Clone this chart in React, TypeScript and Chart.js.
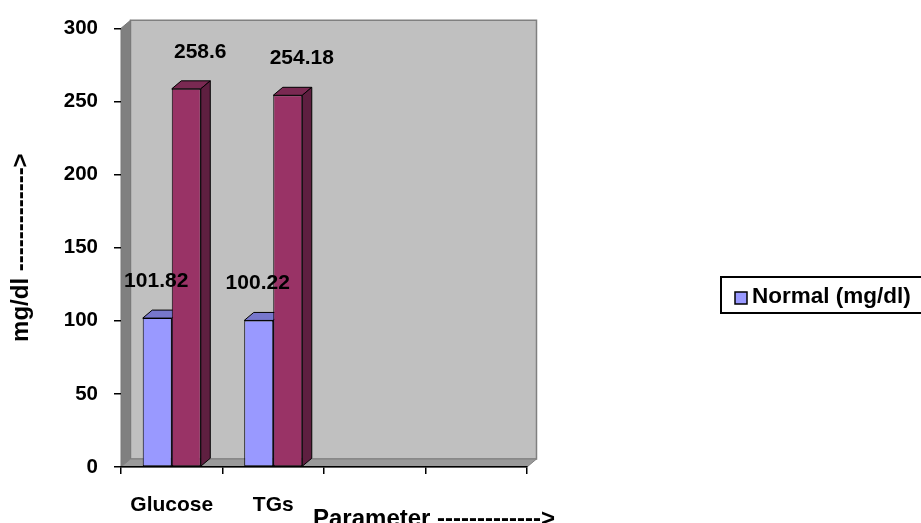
import React, { useEffect, useRef } from "react";
import { Chart, registerables } from "chart.js";

Chart.register(...registerables);

// ---- data ----
const categories = ["Glucose", "TGs", "", ""];
const normalValues = [101.82, 100.22, null, null];
const diabeticValues = [258.6, 254.18, null, null];
const seriesNames = ["Normal (mg/dl)", "Diabetic (mg/dl)"];
const yTickValues = [0, 50, 100, 150, 200, 250, 300];
const yAxisTitle = "mg/dl ------------->";
const xAxisTitle = "Parameter ------------->";

// ---- styling ----
const FONT = '"Liberation Sans", Arial, sans-serif';
const DX = 9.5; // 3D depth offset, horizontal
const DY = 8; // 3D depth offset, vertical
const frontColors = ["#9999FF", "#993366"];
const topColors = ["#7777CC", "#7A2952"];
const sideColors = ["#6666AA", "#5E1F40"];
const labelShift = [-1, 14];

type Pt = [number, number];

function poly(ctx: CanvasRenderingContext2D, pts: Pt[], fill: string, stroke: string, lw = 1) {
  ctx.beginPath();
  ctx.moveTo(pts[0][0], pts[0][1]);
  for (let i = 1; i < pts.length; i++) ctx.lineTo(pts[i][0], pts[i][1]);
  ctx.closePath();
  ctx.fillStyle = fill;
  ctx.fill();
  ctx.lineWidth = lw;
  ctx.strokeStyle = stroke;
  ctx.stroke();
}

const depthPlugin = {
  id: "depth3d",
  beforeDraw(chart: any) {
    const { ctx, chartArea: a } = chart;
    ctx.save();
    // back wall
    poly(
      ctx,
      [
        [a.left + DX, a.top - DY],
        [a.right + DX, a.top - DY],
        [a.right + DX, a.bottom - DY],
        [a.left + DX, a.bottom - DY],
      ],
      "#C0C0C0",
      "#808080",
      1.5
    );
    // side wall
    poly(
      ctx,
      [
        [a.left, a.top],
        [a.left + DX, a.top - DY],
        [a.left + DX, a.bottom - DY],
        [a.left, a.bottom],
      ],
      "#808080",
      "#7A7A7A"
    );
    // floor
    poly(
      ctx,
      [
        [a.left, a.bottom],
        [a.left + DX, a.bottom - DY],
        [a.right + DX, a.bottom - DY],
        [a.right, a.bottom],
      ],
      "#9A9A9A",
      "#808080"
    );
    ctx.restore();
  },
  // top and side faces of every bar, drawn left series first so the
  // front faces (drawn afterwards by Chart.js) hide what lies behind them
  beforeDatasetsDraw(chart: any) {
    const { ctx } = chart;
    ctx.save();
    chart.data.datasets.forEach((ds: any, i: number) => {
      const meta = chart.getDatasetMeta(i);
      meta.data.forEach((el: any, j: number) => {
        const v = ds.data[j];
        if (v === null || v === undefined) return;
        const { x, y, base, width } = el.getProps(["x", "y", "base", "width"], true);
        const x0 = x - width / 2;
        const x1 = x + width / 2;
        poly(
          ctx,
          [
            [x0, y],
            [x1, y],
            [x1 + DX, y - DY],
            [x0 + DX, y - DY],
          ],
          topColors[i],
          "#000"
        );
        poly(
          ctx,
          [
            [x1, y],
            [x1 + DX, y - DY],
            [x1 + DX, base - DY],
            [x1, base],
          ],
          sideColors[i],
          "#000"
        );
      });
    });
    ctx.restore();
  },
  afterDatasetsDraw(chart: any) {
    const { ctx } = chart;
    ctx.save();
    ctx.font = `bold 21px ${FONT}`;
    ctx.fillStyle = "#000";
    ctx.textAlign = "center";
    ctx.textBaseline = "middle";
    chart.data.datasets.forEach((ds: any, i: number) => {
      const meta = chart.getDatasetMeta(i);
      meta.data.forEach((el: any, j: number) => {
        const v = ds.data[j];
        if (v === null || v === undefined) return;
        const { x, y } = el.getProps(["x", "y"], true);
        ctx.fillText(String(v), x + labelShift[i], y - 37);
      });
    });
    ctx.restore();
  },
  afterDraw(chart: any) {
    const { ctx, chartArea: a } = chart;
    ctx.save();
    // x axis title
    ctx.font = `bold 24px ${FONT}`;
    ctx.fillStyle = "#000";
    ctx.textAlign = "left";
    ctx.textBaseline = "alphabetic";
    ctx.fillText(xAxisTitle, a.left + 192, a.bottom + 59);

    // legend (first series only)
    const lx = 721;
    const ly = 277;
    ctx.fillStyle = "#fff";
    ctx.fillRect(lx, ly, 220, 36);
    ctx.lineWidth = 2;
    ctx.strokeStyle = "#000";
    ctx.strokeRect(lx, ly, 220, 36);
    ctx.fillStyle = frontColors[0];
    ctx.fillRect(lx + 14, ly + 15, 12, 12);
    ctx.lineWidth = 1.5;
    ctx.strokeRect(lx + 14, ly + 15, 12, 12);
    ctx.fillStyle = "#000";
    ctx.font = `bold 22.5px ${FONT}`;
    ctx.textBaseline = "middle";
    ctx.fillText(seriesNames[0], lx + 31, ly + 20);
    ctx.restore();
  },
};

export default function App() {
  const ref = useRef<HTMLCanvasElement | null>(null);

  useEffect(() => {
    if (!ref.current) return;
    const chart = new Chart(ref.current, {
      type: "bar",
      data: {
        labels: categories,
        datasets: [
          {
            label: seriesNames[0],
            data: normalValues,
            backgroundColor: frontColors[0],
            borderColor: "#000",
            borderWidth: 1,
            borderSkipped: false,
          },
          {
            label: seriesNames[1],
            data: diabeticValues,
            backgroundColor: frontColors[1],
            borderColor: "#000",
            borderWidth: 1,
            borderSkipped: false,
          },
        ],
      },
      options: {
        animation: false,
        responsive: true,
        maintainAspectRatio: false,
        layout: { padding: { top: 21, right: 394, bottom: 0, left: 0 } },
        datasets: { bar: { categoryPercentage: 0.572, barPercentage: 1 } },
        plugins: {
          legend: { display: false },
          tooltip: { enabled: false },
        },
        scales: {
          x: {
            offset: true,
            grid: {
              display: true,
              offset: true,
              drawOnChartArea: false,
              drawTicks: true,
              tickLength: 7,
              color: "#000",
              lineWidth: 1.5,
            },
            border: { display: true, color: "#000", width: 1.5 },
            ticks: {
              color: "#000",
              padding: 19,
              font: { family: FONT, size: 21, weight: "bold" },
              maxRotation: 0,
              autoSkip: false,
            },
            afterFit(scale: any) {
              scale.height = 56;
            },
          },
          y: {
            min: 0,
            max: 300,
            afterBuildTicks(scale: any) {
              scale.ticks = yTickValues.map((v) => ({ value: v }));
            },
            grid: {
              display: true,
              drawOnChartArea: false,
              drawTicks: true,
              tickLength: 7,
              color: "#000",
              lineWidth: 1.5,
            },
            border: { display: false },
            ticks: {
              color: "#000",
              padding: 16,
              font: { family: FONT, size: 20.5, weight: "bold" },
            },
            title: {
              display: true,
              text: yAxisTitle,
              color: "#000",
              font: { family: FONT, size: 24, weight: "bold" },
              padding: { top: 7, bottom: 0 },
            },
            afterFit(scale: any) {
              scale.width = 121;
            },
          },
        },
      },
      plugins: [depthPlugin],
    } as any);
    return () => chart.destroy();
  }, []);

  return (
    <div
      style={{
        position: "fixed",
        left: 0,
        top: 0,
        width: 921,
        height: 523,
        background: "#fff",
      }}
    >
      <canvas ref={ref} />
    </div>
  );
}
